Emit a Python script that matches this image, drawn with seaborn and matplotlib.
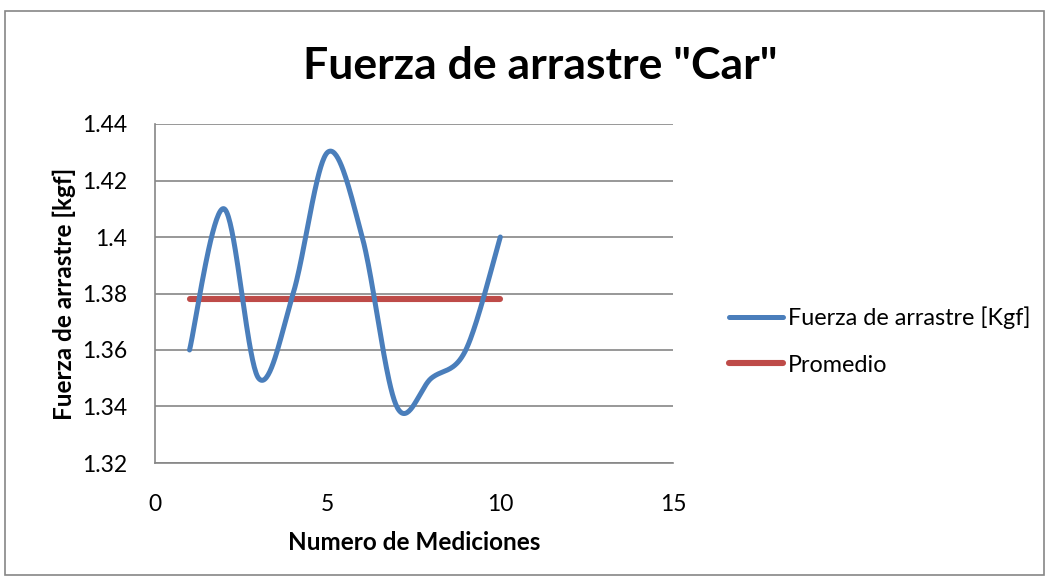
import numpy as np
import pandas as pd
import matplotlib
matplotlib.use("Agg")
import matplotlib.pyplot as plt
import seaborn as sns
from matplotlib.patches import Rectangle

# Measurements
mediciones = [1, 2, 3, 4, 5, 6, 7, 8, 9, 10]
fuerza = [1.36, 1.41, 1.35, 1.38, 1.43, 1.40, 1.34, 1.35, 1.36, 1.40]
promedio = float(np.mean(fuerza))

x_ticks = [0, 5, 10, 15]
y_ticks = [1.32, 1.34, 1.36, 1.38, 1.40, 1.42, 1.44]
y_tick_labels = ["1.32", "1.34", "1.36", "1.38", "1.4", "1.42", "1.44"]

BLUE = "#4A7EBB"
RED = "#BE4B48"
GRID = "#868686"


def smooth_curve(xs, ys, steps=40):
    """Catmull-Rom style Bezier smoothing through the given points."""
    P = np.column_stack([xs, ys]).astype(float)
    n = len(P)
    out = []
    for i in range(n - 1):
        p0 = P[i - 1] if i > 0 else P[i]
        p1 = P[i]
        p2 = P[i + 1]
        p3 = P[i + 2] if i + 2 < n else P[i + 1]
        c1 = p1 + (p2 - p0) / 6.0
        c2 = p2 - (p3 - p1) / 6.0
        t = np.linspace(0, 1, steps, endpoint=(i == n - 2))[:, None]
        seg = ((1 - t) ** 3) * p1 + 3 * ((1 - t) ** 2) * t * c1 + 3 * (1 - t) * t ** 2 * c2 + t ** 3 * p2
        out.append(seg)
    out = np.vstack(out)
    return out[:, 0], out[:, 1]


sns.set_theme(style="white")
plt.rcParams["font.family"] = ["Lato", "DejaVu Sans"]
plt.rcParams["text.color"] = "black"

fig = plt.figure(figsize=(10.49, 5.80), dpi=100)
W, H = 1049, 580
ax = fig.add_axes([155 / W, 1 - 463 / H, (673 - 155) / W, (463 - 124) / H])

sx, sy = smooth_curve(mediciones, fuerza)
curve = pd.DataFrame({"x": sx, "y": sy})
sns.lineplot(data=curve, x="x", y="y", sort=False, estimator=None, ax=ax,
             color=BLUE, linewidth=3.6, solid_capstyle="round",
             label="Fuerza de arrastre [Kgf]", zorder=3)

prom = pd.DataFrame({"x": [mediciones[0], mediciones[-1]], "y": [promedio, promedio]})
sns.lineplot(data=prom, x="x", y="y", ax=ax, color=RED, linewidth=4.4,
             solid_capstyle="round", label="Promedio", zorder=2)

ax.set_xlim(0, 15)
ax.set_ylim(1.32, 1.44)
ax.set_xticks(x_ticks)
ax.set_yticks(y_ticks)
ax.set_yticklabels(y_tick_labels)
ax.tick_params(axis="both", labelsize=16.5, colors="black", length=0)
ax.tick_params(axis="y", pad=20)
ax.tick_params(axis="x", pad=22)

ax.grid(axis="y", color=GRID, linewidth=1.2)
ax.grid(axis="x", visible=False)
for side in ["top", "right"]:
    ax.spines[side].set_visible(False)
for side in ["left", "bottom"]:
    ax.spines[side].set_color(GRID)
    ax.spines[side].set_linewidth(1.2)

ax.set_xlabel("Numero de Mediciones", fontsize=17.5, fontweight="bold", labelpad=12, color="black")
ax.set_ylabel("Fuerza de arrastre [kgf]", fontsize=17.5, fontweight="bold", labelpad=4, color="black")

fig.text(540 / W, 1 - 66 / H, 'Fuerza de arrastre "Car"', ha="center", va="center",
         fontsize=32, fontweight="bold", color="black")

leg = ax.legend(loc="center left", bbox_to_anchor=(720 / W, 1 - 341 / H),
                bbox_transform=fig.transFigure, frameon=False, fontsize=16.8,
                handlelength=2.3, handletextpad=0.2, labelspacing=1.1, borderaxespad=0)
for t in leg.get_texts():
    t.set_color("black")

# Chart area border
fig.patches.append(Rectangle((5 / W, 5 / H), 1 - 10 / W, 1 - 16 / H,
                             transform=fig.transFigure, fill=False,
                             edgecolor=GRID, linewidth=1.2))

fig.savefig("out.png", dpi=100, facecolor="white")
